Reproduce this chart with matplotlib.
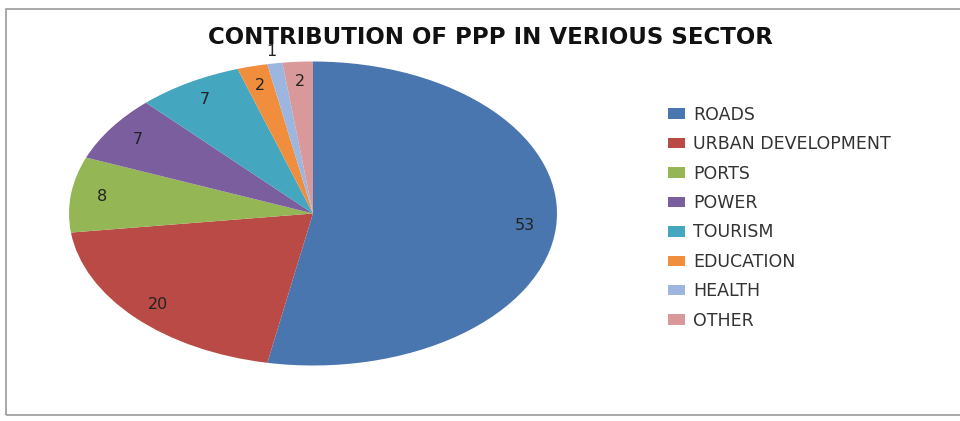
import matplotlib
matplotlib.use("Agg")
import matplotlib.pyplot as plt
import numpy as np
from matplotlib.patches import Rectangle

sectors = ["ROADS", "URBAN DEVELOPMENT", "PORTS", "POWER", "TOURISM",
           "EDUCATION", "HEALTH", "OTHER"]
values = [53, 20, 8, 7, 7, 2, 1, 2]
colors = ["#4A76AF", "#BA4A46", "#94B655", "#7B5E9E", "#45A6BF",
          "#F08E3E", "#9DB6E0", "#D9989A"]
title = "CONTRIBUTION OF PPP IN VERIOUS SECTOR"

W, H = 960, 421
fig = plt.figure(figsize=(W / 100, H / 100), dpi=100)

# outer frame
fig.patches.append(Rectangle((6 / W, (H - 415) / H), (W + 10) / W, (415 - 9) / H,
                             transform=fig.transFigure, fill=False,
                             edgecolor="#9a9a9a", linewidth=1.2))

cx, cy, rx, ry = 313, 213.5, 244, 152
ax = fig.add_axes([(cx - rx) / W, (H - cy - ry) / H, 2 * rx / W, 2 * ry / H])
wedges, _ = ax.pie(values, colors=colors, startangle=90, counterclock=False,
                   radius=1.0, wedgeprops=dict(edgecolor="none"))
ax.set_aspect("auto")
ax.set_xlim(-1, 1)
ax.set_ylim(-1, 1)
ax.axis("off")

for w, v in zip(wedges, values):
    mid = np.deg2rad((w.theta1 + w.theta2) / 2)
    r = 1.08 if v == 1 else 0.87
    ax.text(r * np.cos(mid), r * np.sin(mid), str(v), ha="center", va="center",
            fontsize=11.5, color="#222222", family="DejaVu Sans",
            clip_on=False)

fig.text(490 / W, 1 - 38 / H, title, ha="center", va="center",
         fontsize=16.5, fontweight="bold", family="DejaVu Sans", color="#111111")

leg = fig.legend(wedges, sectors, loc="upper left",
                 bbox_to_anchor=(652 / W, 1 - 90 / H), frameon=False,
                 handlelength=1.0, handleheight=0.55,
                 handletextpad=0.45, labelspacing=0.66,
                 prop=dict(family="DejaVu Sans", size=12.5))
for t in leg.get_texts():
    t.set_color("#333333")

fig.savefig("out.png", dpi=100)
